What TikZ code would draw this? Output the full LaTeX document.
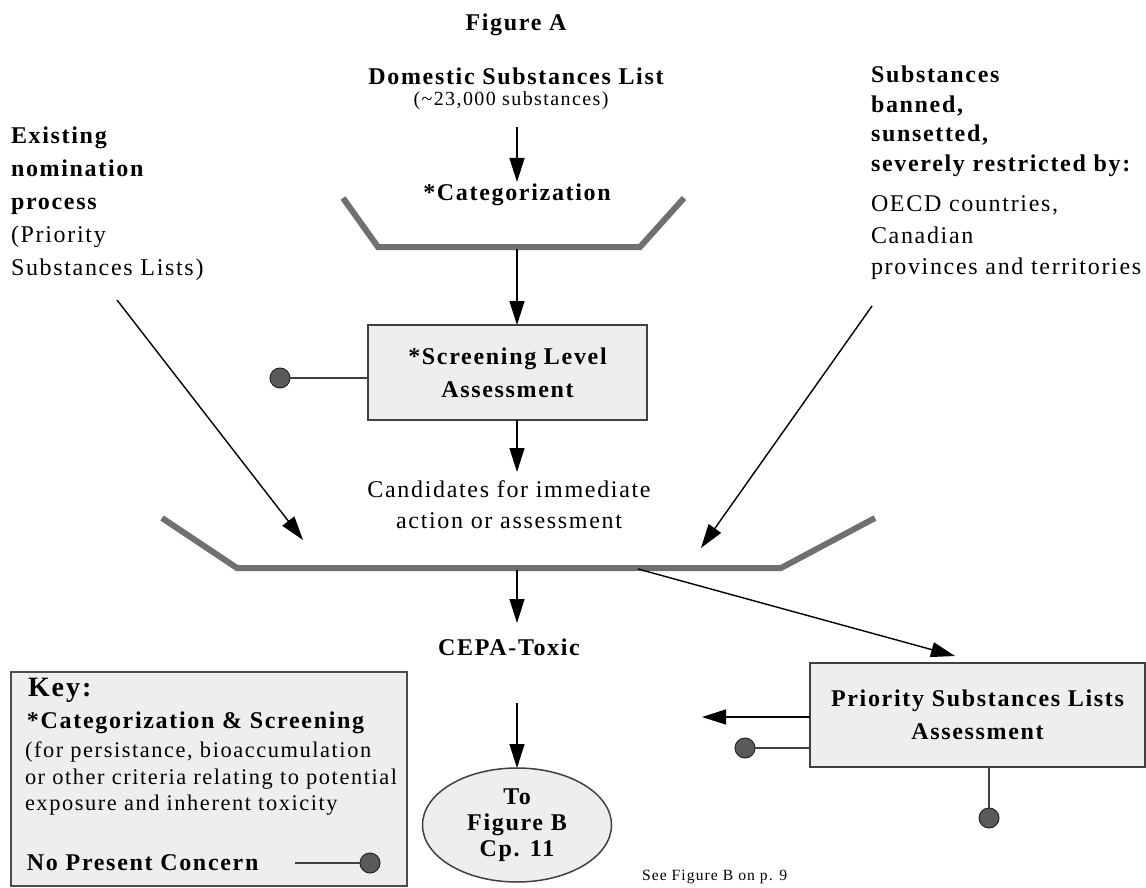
\documentclass[tikz,border=0pt]{standalone}
\usepackage{fontspec}
\setmainfont{Liberation Serif}[LetterSpace=7]
\usetikzlibrary{arrows.meta,positioning,shapes.geometric,calc}
\definecolor{funnelgray}{HTML}{707070}
\definecolor{boxgray}{HTML}{EEEEEE}
\definecolor{dotgray}{HTML}{5A5A5A}

\begin{document}
\begin{tikzpicture}[x=1pt, y=-1pt,
    every node/.style={inner sep=0pt, outer sep=0pt},
    lbl/.style={font=\fontsize{24}{30}\selectfont\bfseries},
    txt/.style={font=\fontsize{24}{33}\selectfont},
    flow/.style={line width=1.4pt, -{Triangle[length=24pt,width=15pt]}},
    funnel/.style={line width=6pt, draw=funnelgray},
    procbox/.style={draw=black!75, line width=1.5pt, fill=boxgray, align=center},
    stop/.style={circle, draw=black!85, fill=dotgray, minimum size=20pt, line width=1pt},
    tie/.style={line width=1.4pt, draw=black!75}]
    \useasboundingbox (0,0) rectangle (1146,888);

    % top of the chart
    \node[lbl] (figA) at (516,25) {Figure A};
    \node[lbl] (dsl) at (516,76) {Domestic Substances List};
    \node[font=\fontsize{20}{22}\selectfont] (dslnum) at (511,101) {(\textasciitilde 23,000 substances)};
    \node[lbl] (cat) at (517,195) {*Categorization};
    \coordinate (dslout) at (517,127);
    \draw[flow] (dslout) -- (dslout |- 0,182);

    \draw[funnel] (343,198) -- (378,247) -- (640,247) -- (684,198);
    \coordinate (catout) at (517,249);

    \node[procbox, minimum width=279pt, minimum height=95pt,
        font=\fontsize{24}{33}\selectfont\bfseries] (sla) at (507.5,372.5) {*Screening Level\\Assessment};
    \draw[flow] (catout) -- (catout |- sla.north);
    \node[stop] (slastop) at (280,378) {};
    \draw[tie] (slastop) -- (slastop -| sla.west);

    \node[txt, align=center, font=\fontsize{24}{31}\selectfont] (cand) at (509,505) {Candidates for immediate\\action or assessment};
    \coordinate (slaout) at (517,420);
    \draw[flow] (slaout) -- (517,472);

    % side inputs
    \node[txt, anchor=north west, align=left] (nom) at (11,127)
        {\textbf{Existing}\\\textbf{nomination}\\\textbf{process}\\(Priority\\Substances Lists)};
    \node[lbl, anchor=north west, align=left, font=\fontsize{24}{29.5}\selectfont\bfseries] (ban) at (871,66)
        {Substances\\banned,\\sunsetted,\\severely restricted by:};
    \node[txt, anchor=north west, align=left, font=\fontsize{24}{31.5}\selectfont] (juris) at (871,196)
        {OECD countries,\\Canadian\\provinces and territories};

    \draw[funnel] (162,518) -- (237,568) -- (781,568) -- (875,518);
    \coordinate (nomout) at (117,300);
    \coordinate (nomin) at (303,540);
    \draw[flow] (nomout) -- (nomin);
    \coordinate (jurout) at (872,306);
    \coordinate (jurin) at (701,548);
    \draw[flow] (jurout) -- (jurin);

    % lower part
    \node[lbl] (cepa) at (509,647) {CEPA-Toxic};
    \coordinate (f2out) at (517,570);
    \draw[flow] (f2out) -- (f2out |- 0,623);

    \node[ellipse, draw=black!75, line width=1.5pt, fill=boxgray, minimum width=189pt, minimum height=114pt,
        align=center, font=\fontsize{24}{26}\selectfont\bfseries] (toB) at (517,825) {To\\Figure B\\Cp. 11};
    \coordinate (cepaout) at (517,703);
    \draw[flow] (cepaout) -- (toB.north);

    \node[procbox, minimum width=335pt, minimum height=104pt,
        font=\fontsize{24}{33}\selectfont\bfseries] (psl) at (977.5,715) {Priority Substances Lists\\Assessment};
    \coordinate (f2side) at (638,569);
    \draw[flow] (f2side) -- (955,656);
    \coordinate (pslback) at (702,717);
    \draw[flow] (pslback -| psl.west) -- (pslback);
    \node[stop] (pslstop) at (745,748) {};
    \draw[tie] (pslstop) -- (pslstop -| psl.west);
    \node[stop] (pslstopb) at (989,818) {};
    \draw[tie] (pslstopb) -- (pslstopb |- psl.south);

    % key
    \node[draw=black!70, line width=1.5pt, fill=boxgray, minimum width=396pt, minimum height=214pt, anchor=north west] (key) at (11,672) {};
    \node[anchor=west, font=\fontsize{28}{30}\selectfont\bfseries] (keyhd) at (28,690) {Key:};
    \node[lbl, anchor=west] (keycat) at (27,723) {*Categorization \& Screening};
    \node[anchor=north west, align=left, font=\fontsize{22.4}{26.5}\selectfont] (keytxt) at (25,742)
        {(for persistance, bioaccumulation\\or other criteria relating to potential\\exposure and inherent toxicity};
    \node[lbl, anchor=west] (keyno) at (27,863) {No Present Concern};
    \node[stop] (keystop) at (370,863) {};
    \coordinate (keytie) at (295,863);
    \draw[tie] (keytie) -- (keystop);

    \node[anchor=west, font=\fontsize{15.6}{18}\selectfont] (seeB) at (642,877) {See Figure B on p. 9};
\end{tikzpicture}
\end{document}
